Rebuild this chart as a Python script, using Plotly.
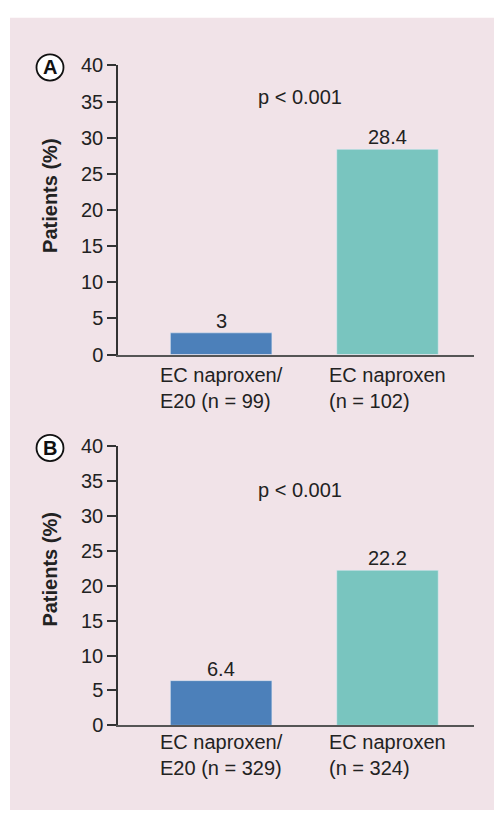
import plotly.graph_objects as go

W, H = 494, 821

categories = ["EC naproxen/<br>E20 (n = 99)", "EC naproxen<br>(n = 102)"]
values_a = [3, 28.4]
categories_b = ["EC naproxen/<br>E20 (n = 329)", "EC naproxen<br>(n = 324)"]
values_b = [6.4, 22.2]
value_text_a = ["3", "28.4"]
value_text_b = ["6.4", "22.2"]
bar_colors = ["#4C80BA", "#79C5BF"]
y_ticks = [0, 5, 10, 15, 20, 25, 30, 35, 40]
p_text = "p < 0.001"
panel_letters = ["A", "B"]

FONT = "Liberation Sans, Arial, Helvetica, sans-serif"
TXT = "#222222"
PINK = "#F1E3E8"


def fx(px):
    return px / W


def fy(py):
    return 1 - py / H


fig = go.Figure()

panels = [
    dict(top=56, bottom=353, title_y=190, p_y=88, letter_y=58, label_top=361,
         cats=categories, vals=values_a, txt=value_text_a, xr="x", yr="y"),
    dict(top=447, bottom=734, title_y=574, p_y=492, letter_y=449, label_top=738,
         cats=categories_b, vals=values_b, txt=value_text_b, xr="x2", yr="y2"),
]

for pn in panels:
    fig.add_trace(go.Bar(x=pn["cats"], y=pn["vals"], marker_color=bar_colors, width=0.61,
                         xaxis=pn["xr"], yaxis=pn["yr"], showlegend=False, hoverinfo="skip"))

xdom = [fx(118), fx(474)]
common_y = dict(range=[0, 40], tickvals=y_ticks, ticks="outside", ticklen=9, tickwidth=1.5,
                tickcolor="#333333", showline=True, linecolor="#333333", linewidth=1.5,
                showgrid=False, zeroline=False, fixedrange=True,
                tickfont=dict(size=20, color=TXT, family=FONT))
common_x = dict(range=[-0.62, 1.52], showline=True, linecolor="#555555", linewidth=2,
                showticklabels=False, ticks="", showgrid=False, fixedrange=True)

fig.update_layout(
    width=W, height=H, margin=dict(l=0, r=0, t=0, b=0),
    paper_bgcolor="white", plot_bgcolor="white",
    font=dict(family=FONT, color=TXT, size=20),
    xaxis=dict(domain=xdom, anchor="y", **common_x),
    yaxis=dict(domain=[fy(panels[0]["bottom"]), fy(panels[0]["top"])], anchor="x", **common_y),
    xaxis2=dict(domain=xdom, anchor="y2", **common_x),
    yaxis2=dict(domain=[fy(panels[1]["bottom"]), fy(panels[1]["top"])], anchor="x2", **common_y),
)

shapes = [dict(type="rect", xref="paper", yref="paper", x0=fx(10), x1=1, y0=0, y1=fy(7),
               fillcolor=PINK, line=dict(width=0), layer="below")]
annotations = []

for i, pn in enumerate(panels):
    annotations.append(dict(text="<b>Patients (%)</b>", textangle=-90, xref="paper", yref="paper",
                            x=fx(50), y=fy(pn["title_y"]), xanchor="center", yanchor="middle",
                            showarrow=False, font=dict(size=20, color=TXT, family=FONT)))
    annotations.append(dict(text=p_text, xref="paper", yref="paper", x=fx(300), y=fy(pn["p_y"]),
                            xanchor="center", yanchor="middle", showarrow=False,
                            font=dict(size=20, color=TXT, family=FONT)))
    for c in pn["cats"]:
        annotations.append(dict(text=c, xref=pn["xr"], yref="paper", x=c, y=fy(pn["label_top"]),
                                xanchor="center", yanchor="top", align="left", showarrow=False,
                                font=dict(size=20, color=TXT, family=FONT)))
    for c, v, t in zip(pn["cats"], pn["vals"], pn["txt"]):
        annotations.append(dict(text=t, xref=pn["xr"], yref=pn["yr"], x=c, y=v,
                                xanchor="center", yanchor="middle", yshift=12, showarrow=False,
                                font=dict(size=20, color=TXT, family=FONT)))
    cx, cy, r = 50, pn["letter_y"], 13.5
    shapes.append(dict(type="circle", xref="paper", yref="paper", x0=fx(cx - r), x1=fx(cx + r),
                       y0=fy(cy + r), y1=fy(cy - r), line=dict(color="#111111", width=1.8),
                       fillcolor="white"))
    annotations.append(dict(text="<b>%s</b>" % panel_letters[i], xref="paper", yref="paper",
                            x=fx(cx), y=fy(cy), xanchor="center", yanchor="middle", showarrow=False,
                            font=dict(size=20, color="#111111", family=FONT)))

fig.update_layout(shapes=shapes, annotations=annotations)
fig.write_html("out.html", config={"displayModeBar": False},
               post_script="document.body.style.margin='0';document.body.style.overflow='hidden';")
